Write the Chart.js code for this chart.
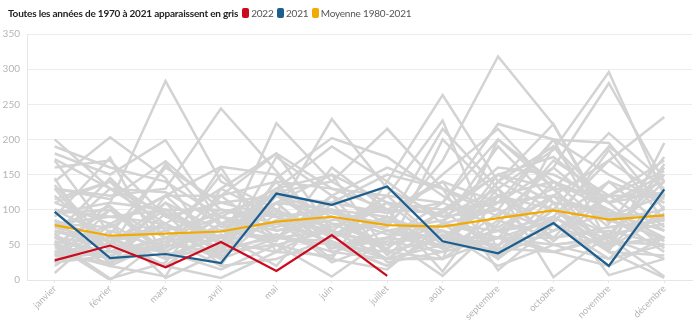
<!DOCTYPE html>
<html>
<head>
<meta charset="utf-8">
<script src="https://cdn.jsdelivr.net/npm/chart.js@4/dist/chart.umd.min.js"></script>
<style>
	html, body { margin: 0; padding: 0; background: #fff; }
	#wrap { position: relative; width: 700px; height: 321px; }
	#head { position: absolute; left: 8px; top: 6px; font-family: Lato, sans-serif; font-size: 10px; letter-spacing: -0.2px; color: #333; white-space: nowrap; line-height: 14px; }
	#head b { font-weight: 700; color: #222; margin-right: 3px; }
	#head .key { display: inline-block; width: 7px; height: 10px; border-radius: 2px; vertical-align: -1px; margin: 0 2px 0 1px; }
	#head .lbl { color: #555; margin-right: 0; }
</style>
</head>
<body>
<div id="wrap">
	<div id="head">
		<b>Toutes les années de 1970 à 2021 apparaissent en gris</b><span class="key" style="background:#cc0a1e"></span><span class="lbl">2022</span>
		<span class="key" style="background:#1c5e8e"></span><span class="lbl">2021</span>
		<span class="key" style="background:#f2a900"></span><span class="lbl">Moyenne 1980-2021</span>
	</div>
	<canvas id="chart" width="700" height="321"></canvas>
</div>
<script>
	var months = ['janvier', 'février', 'mars', 'avril', 'mai', 'juin', 'juillet', 'août', 'septembre', 'octobre', 'novembre', 'décembre'];
	var yTicks = [0, 50, 100, 150, 200, 250, 300, 350];

	var y2022 = [28, 49, 18, 54, 13, 64, 6];
	var y2021 = [97, 31, 37, 24, 123, 107, 133, 55, 38, 81, 20, 129];
	var moyenne = [78, 63, 66, 69, 83, 90, 78, 76, 88, 99, 86, 92];

	// années 1970 à 2020, une ligne par année
	var y1970 = [200, 130, 95, 60, 110, 45, 70, 85, 120, 60, 140, 110];
	var y1971 = [190, 160, 140, 90, 75, 100, 40, 60, 35, 70, 95, 55];
	var y1972 = [70, 55, 80, 45, 130, 90, 65, 60, 60, 140, 75, 85];
	var y1973 = [45, 60, 20, 80, 95, 75, 110, 50, 140, 100, 45, 120];
	var y1974 = [140, 203, 145, 30, 60, 120, 35, 100, 150, 175, 110, 140];
	var y1975 = [95, 110, 283, 140, 100, 65, 90, 45, 130, 55, 120, 70];
	var y1976 = [60, 50, 40, 15, 50, 5, 60, 95, 160, 150, 110, 125];
	var y1977 = [180, 150, 199, 80, 120, 110, 95, 140, 30, 110, 95, 90];
	var y1978 = [130, 120, 130, 244, 155, 60, 85, 70, 45, 40, 65, 150];
	var y1979 = [110, 140, 60, 100, 80, 55, 30, 80, 60, 85, 140, 75];
	var y1980 = [80, 75, 120, 50, 223, 140, 95, 110, 75, 120, 85, 60];
	var y1981 = [70, 45, 165, 75, 100, 60, 120, 50, 150, 130, 40, 195];
	var y1982 = [50, 0, 60, 30, 95, 229, 130, 90, 100, 200, 150, 110];
	var y1983 = [100, 90, 80, 130, 180, 70, 30, 30, 85, 60, 75, 85];
	var y1984 = [50, 100, 35, 45, 60, 50, 40, 60, 120, 80, 45, 95];
	var y1985 = [75, 55, 70, 95, 120, 95, 80, 215, 130, 4, 65, 140];
	var y1986 = [40, 40, 60, 70, 60, 55, 20, 65, 40, 100, 55, 50];
	var y1987 = [35, 110, 100, 60, 125, 140, 215, 130, 90, 160, 95, 70];
	var y1988 = [172, 130, 125, 80, 110, 100, 70, 60, 110, 120, 40, 35];
	var y1989 = [20, 70, 45, 160, 40, 80, 50, 70, 20, 50, 60, 160];
	var y1990 = [90, 174, 30, 65, 20, 110, 25, 40, 95, 130, 120, 120];
	var y1991 = [60, 30, 110, 70, 55, 160, 100, 12, 120, 140, 110, 45];
	var y1992 = [25, 35, 60, 90, 130, 190, 140, 263, 140, 222, 85, 100];
	var y1993 = [55, 2, 25, 120, 140, 130, 120, 110, 222, 200, 50, 165];
	var y1994 = [65, 20, 55, 70, 110, 45, 60, 50, 70, 120, 90, 40];
	var y1995 = [35, 60, 30, 50, 85, 25, 55, 40, 60, 60, 70, 50];
	var y1996 = [100, 60, 75, 55, 40, 35, 90, 30, 60, 50, 60, 30];
	var y1997 = [10, 80, 3, 40, 130, 150, 110, 100, 40, 120, 170, 115];
	var y1998 = [85, 25, 50, 150, 70, 90, 40, 30, 200, 140, 100, 60];
	var y1999 = [115, 140, 90, 110, 120, 80, 75, 170, 318, 221, 80, 175];
	var y2000 = [40, 80, 120, 161, 150, 60, 110, 90, 130, 185, 296, 120];
	var y2001 = [130, 115, 169, 100, 90, 30, 140, 80, 190, 110, 7, 30];
	var y2002 = [65, 145, 70, 35, 175, 120, 80, 150, 215, 130, 209, 140];
	var y2003 = [110, 80, 35, 60, 100, 50, 60, 6, 80, 170, 120, 155];
	var y2004 = [135, 50, 100, 100, 90, 70, 120, 227, 40, 100, 65, 80];
	var y2005 = [30, 40, 45, 90, 70, 85, 100, 95, 150, 110, 100, 60];
	var y2006 = [50, 30, 50, 40, 65, 40, 30, 80, 70, 80, 30, 50];
	var y2007 = [95, 100, 60, 20, 145, 202, 175, 120, 70, 40, 60, 90];
	var y2008 = [145, 20, 120, 120, 180, 130, 100, 140, 110, 160, 280, 140];
	var y2009 = [75, 105, 40, 90, 60, 100, 90, 60, 50, 90, 170, 232];
	var y2010 = [60, 130, 80, 30, 110, 150, 40, 200, 120, 100, 190, 130];
	var y2011 = [85, 55, 20, 3, 40, 120, 160, 130, 100, 70, 120, 170];
	var y2012 = [40, 20, 5, 130, 90, 100, 70, 45, 140, 190, 110, 150];
	var y2013 = [25, 100, 40, 80, 50, 70, 50, 80, 100, 50, 30, 105];
	var y2014 = [160, 170, 90, 60, 80, 110, 150, 130, 14, 80, 185, 85];
	var y2015 = [80, 90, 100, 50, 140, 40, 60, 110, 200, 130, 60, 5];
	var y2016 = [120, 50, 110, 30, 120, 70, 30, 50, 70, 90, 40, 3];
	var y2017 = [35, 25, 95, 20, 30, 60, 90, 45, 60, 40, 20, 60];
	var y2018 = [170, 65, 160, 110, 90, 50, 20, 70, 45, 190, 90, 120];
	var y2019 = [55, 40, 50, 120, 60, 70, 45, 100, 110, 200, 195, 100];
	var y2020 = [130, 40, 80, 40, 50, 30, 15, 80, 30, 90, 50, 60];

	var greyYears = [y1970, y1971, y1972, y1973, y1974, y1975, y1976, y1977, y1978, y1979,
		y1980, y1981, y1982, y1983, y1984, y1985, y1986, y1987, y1988, y1989,
		y1990, y1991, y1992, y1993, y1994, y1995, y1996, y1997, y1998, y1999,
		y2000, y2001, y2002, y2003, y2004, y2005, y2006, y2007, y2008, y2009,
		y2010, y2011, y2012, y2013, y2014, y2015, y2016, y2017, y2018, y2019,
		y2020, y2021];

	var font = 'Lato, sans-serif';

	function line(label, data, color, width) {
		return {
			label: label,
			data: data,
			borderColor: color,
			borderWidth: width,
			pointRadius: 0,
			fill: false,
			tension: 0
		};
	}

	// the first datasets are painted last, so the highlighted years go first
	var datasets = [
		line('2022', y2022, '#cc0a1e', 2.2),
		line('2021', y2021, '#1c5e8e', 2.2),
		line('Moyenne 1980-2021', moyenne, '#f2a900', 2.2)
	];
	greyYears.forEach(function(vals, i) {
		datasets.push(line(String(1970 + i), vals, '#d3d3d3', 2.5));
	});

	new Chart(document.getElementById('chart'), {
		type: 'line',
		data: {labels: months, datasets: datasets},
		options: {
			responsive: false,
			animation: false,
			layout: {padding: {top: 34, right: 8, left: 0, bottom: 0}},
			plugins: {
				legend: {display: false},
				tooltip: {enabled: false}
			},
			scales: {
				x: {
					offset: true,
					grid: {display: true, drawOnChartArea: false, color: '#e6e6e6', tickLength: 3},
					border: {color: '#e6e6e6'},
					ticks: {
						color: '#b5b5b5',
						font: {family: font, size: 9.5},
						minRotation: 45,
						maxRotation: 45,
						padding: 0
					},
					afterFit: function(s) { s.height = 41; }
				},
				y: {
					min: 0,
					max: 350,
					afterBuildTicks: function(s) {
						s.ticks = yTicks.map(function(v) { return {value: v}; });
					},
					grid: {color: '#ececec', drawTicks: false},
					border: {color: '#e6e6e6'},
					ticks: {
						color: '#b5b5b5',
						font: {family: font, size: 10},
						padding: 7
					},
					afterFit: function(s) { s.width = 27; }
				}
			}
		}
	});
</script>
</body>
</html>
